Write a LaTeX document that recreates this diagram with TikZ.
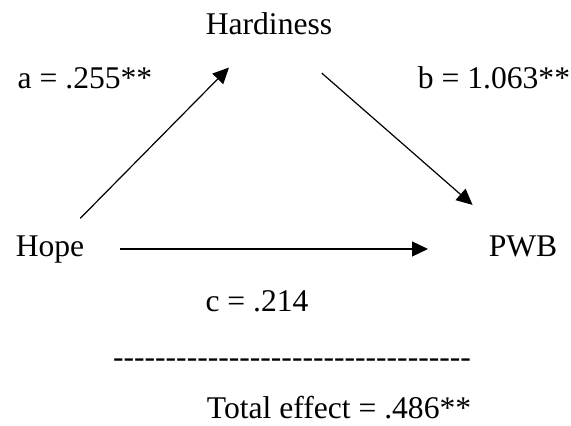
\documentclass[tikz,border=0pt]{standalone}
\usepackage{fontspec}
\setmainfont{Liberation Serif}
\newfontfamily\dashfont{Liberation Serif}[Ligatures=TeXOff]
\usetikzlibrary{arrows.meta}

\begin{document}
\begin{tikzpicture}[
      x=0.5pt, y=-0.5pt,
      every node/.style={font=\fontsize{15.8}{19}\selectfont},
      varlabel/.style={inner sep=0pt, text height=11pt, text depth=3pt},
      coeflabel/.style={inner sep=0pt, text height=11pt, text depth=3pt},
      arr/.style={-{Triangle[length=8pt, width=7.5pt]}, line width=0.6pt}
    ]
    \useasboundingbox (0,0) rectangle (571,426);

    % ===== Variables =====
    \node[varlabel] (hard) at (269, 27) {Hardiness};
    \node[varlabel] (hope) at (50, 249) {Hope};
    \node[varlabel] (pwb) at (523, 249) {PWB};

    % ===== Path coefficients =====
    \node[coeflabel] (pa) at (85, 81) {a = .255**};
    \node[coeflabel] (pb) at (494, 81) {b = 1.063**};
    \node[coeflabel] (pc) at (257, 304) {c = .214};

    % ===== Total effect below the rule =====
    \node[coeflabel] (rule) at (292, 359)
      {\dashfont ----------------------------------};
    \node[coeflabel] (tot) at (339, 410) {Total effect = .486**};

    % ===== Arrows =====
    \draw[arr, shorten <=21.5pt, shorten >=28.5pt] (hope.center) -- (hard.center);
    \draw[arr, shorten <=35pt, shorten >=33.5pt] (hard.center) -- (pwb.center);
    \draw[arr, shorten <=35pt, shorten >=47.5pt] (hope.center) -- (pwb.center);
  \end{tikzpicture}
\end{document}
